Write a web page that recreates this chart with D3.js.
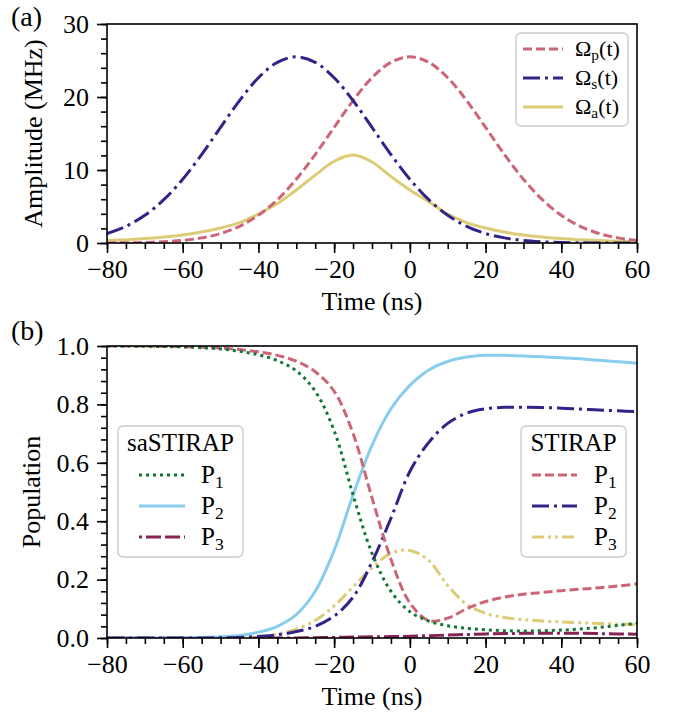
<!DOCTYPE html>
<html>
<head>
<meta charset="utf-8">
<script src="https://cdn.jsdelivr.net/npm/d3@7"></script>
<style>
  body { margin: 0; background: #fff; }
  svg text { fill: #000; font-family: "Liberation Serif", "Times New Roman", serif !important; }
  .axis path, .axis line { stroke: #000; stroke-width: 1.6; }
</style>
</head>
<body>
<div id="chart"></div>
<script>
// time grid (ns) shared by every curve
const TIME = [-80, -75, -70, -65, -60, -55, -50, -45, -40, -35, -30, -25, -20, -15, -10,
  -5, 0, 5, 10, 15, 20, 25, 30, 35, 40, 45, 50, 55, 60];

// panel (a): pulse amplitudes, MHz
const OMEGA_P = [0.01, 0.03, 0.08, 0.17, 0.35, 0.70, 1.30, 2.29, 3.80, 5.93, 8.74, 12.12, 15.84, 19.51, 22.64,
  24.75, 25.5, 24.75, 22.64, 19.51, 15.84, 12.12, 8.74, 5.93, 3.80, 2.29, 1.30, 0.70, 0.35];
const OMEGA_S = [1.30, 2.29, 3.80, 5.93, 8.74, 12.12, 15.84, 19.51, 22.64, 24.75, 25.5, 24.75, 22.64, 19.51, 15.84,
  12.12, 8.74, 5.93, 3.80, 2.29, 1.30, 0.70, 0.35, 0.17, 0.08, 0.03, 0.01, 0.0, 0.0];
const OMEGA_A = [0.33, 0.45, 0.6, 0.82, 1.1, 1.5, 2.05, 2.78, 3.97, 5.4, 7.26, 9.3, 11.2, 12.05, 11.1,
  9.1, 7.26, 5.66, 3.97, 2.8, 2.05, 1.5, 1.1, 0.82, 0.6, 0.45, 0.33, 0.25, 0.18];

// panel (b): populations, STIRAP
const STIRAP_P1 = [1.0, 1.0, 1.0, 0.999, 0.998, 0.996, 0.993, 0.988, 0.98, 0.968, 0.948, 0.912, 0.845, 0.70, 0.48,
  0.27, 0.12, 0.06, 0.068, 0.10, 0.125, 0.14, 0.15, 0.156, 0.162, 0.167, 0.172, 0.178, 0.185];
const STIRAP_P2 = [0, 0, 0, 0, 0, 0, 0.001, 0.002, 0.005, 0.011, 0.022, 0.04, 0.075, 0.14, 0.26,
  0.41, 0.57, 0.67, 0.735, 0.77, 0.785, 0.79, 0.79, 0.789, 0.787, 0.784, 0.781, 0.778, 0.775];
const STIRAP_P3 = [0, 0, 0, 0, 0, 0, 0.001, 0.002, 0.006, 0.014, 0.03, 0.06, 0.11, 0.175, 0.24,
  0.29, 0.30, 0.265, 0.18, 0.115, 0.085, 0.07, 0.063, 0.058, 0.055, 0.052, 0.05, 0.048, 0.045];

// panel (b): populations, saSTIRAP
const SA_P1 = [1.0, 1.0, 0.999, 0.998, 0.997, 0.994, 0.99, 0.982, 0.97, 0.95, 0.915, 0.845, 0.71, 0.49, 0.29,
  0.16, 0.09, 0.058, 0.042, 0.033, 0.028, 0.025, 0.024, 0.025, 0.027, 0.031, 0.036, 0.043, 0.05];
const SA_P2 = [0, 0, 0, 0, 0.001, 0.002, 0.004, 0.009, 0.02, 0.04, 0.08, 0.16, 0.3, 0.49, 0.66,
  0.785, 0.865, 0.918, 0.947, 0.962, 0.968, 0.968, 0.966, 0.963, 0.96, 0.956, 0.951, 0.946, 0.941];
const SA_P3 = [0, 0, 0, 0, 0, 0, 0, 0, 0, 0, 0, 0.001, 0.002, 0.003, 0.004,
  0.005, 0.006, 0.008, 0.01, 0.012, 0.014, 0.015, 0.016, 0.016, 0.016, 0.016, 0.015, 0.014, 0.013];

const X_TICKS = [-80, -60, -40, -20, 0, 20, 40, 60];
const A_Y_TICKS = [0, 10, 20, 30];
const B_Y_TICKS = [0, 0.2, 0.4, 0.6, 0.8, 1.0];

// muted qualitative colours
const COLORS = {
  rose: "#cc6677",
  indigo: "#332288",
  sand: "#ddcc77",
  green: "#117733",
  cyan: "#88ccee",
  wine: "#882255",
};

const DASH = {
  solid: null,
  dashed: "9,4",
  dashdot: "17,5,3,5",
  dashdotdot: "12,4,3,4,3,4",
  dotted: "3,4",
  dotdashdash: "3,4,15,4,15,4",
};

const FONT = 26;
const WIDTH = 680;
const HEIGHT = 719;
const X_RANGE = [107, 637];
const PANEL_A = { top: 24, bottom: 243 };
const PANEL_B = { top: 346, bottom: 638 };

const svg = d3.select("#chart")
  .append("svg")
  .attr("width", WIDTH)
  .attr("height", HEIGHT)
  .attr("viewBox", `0 0 ${WIDTH} ${HEIGHT}`);

const x = d3.scaleLinear().domain([-80, 60]).range(X_RANGE);

function series(values) {
  return TIME.map((t, i) => ({ t, v: values[i] }));
}

// label with a subscript, e.g. Ω_p(t)
function subText(sel, base, sub, tail, size) {
  sel.append("tspan").text(base);
  sel.append("tspan").attr("font-size", size * 0.7).attr("dy", size * 0.22).text(sub);
  if (tail) sel.append("tspan").attr("dy", -size * 0.22).text(tail);
}

function styleAxis(a) {
  a.attr("font-size", FONT);
  a.select(".domain").remove();
}

function drawPanel(cfg) {
  const y = d3.scaleLinear().domain(cfg.yDomain).range([cfg.box.bottom, cfg.box.top]);
  const g = svg.append("g");

  const clipId = `clip-${cfg.name}`;
  svg.append("clipPath").attr("id", clipId)
    .append("rect")
    .attr("x", X_RANGE[0]).attr("y", cfg.box.top)
    .attr("width", X_RANGE[1] - X_RANGE[0])
    .attr("height", cfg.box.bottom - cfg.box.top);

  // minor ticks first, then major ones on top
  g.append("g")
    .attr("class", "axis")
    .attr("transform", `translate(0,${cfg.box.bottom})`)
    .call(d3.axisBottom(x).tickValues(d3.range(-80, 61, 5)).tickSize(6).tickFormat(""))
    .call(styleAxis);
  g.append("g")
    .attr("class", "axis")
    .attr("transform", `translate(${X_RANGE[0]},0)`)
    .call(d3.axisLeft(y).tickValues(cfg.yMinor).tickSize(6).tickFormat(""))
    .call(styleAxis);

  g.append("g")
    .attr("class", "axis")
    .attr("transform", `translate(0,${cfg.box.bottom})`)
    .call(d3.axisBottom(x).tickValues(X_TICKS).tickSize(10).tickPadding(7).tickFormat(d3.format("d")))
    .call(styleAxis);
  g.append("g")
    .attr("class", "axis")
    .attr("transform", `translate(${X_RANGE[0]},0)`)
    .call(d3.axisLeft(y).tickValues(cfg.yTicks).tickSize(10).tickPadding(8).tickFormat(cfg.yFormat))
    .call(styleAxis);

  const line = d3.line()
    .x((d) => x(d.t))
    .y((d) => y(d.v))
    .curve(d3.curveCatmullRom.alpha(0.5));

  const lines = g.append("g").attr("clip-path", `url(#${clipId})`);
  cfg.lines.forEach((s) => {
    lines.append("path")
      .datum(series(s.values))
      .attr("fill", "none")
      .attr("stroke", s.color)
      .attr("stroke-width", 3)
      .attr("stroke-dasharray", s.dash)
      .attr("d", line);
  });

  // frame
  g.append("rect")
    .attr("x", X_RANGE[0]).attr("y", cfg.box.top)
    .attr("width", X_RANGE[1] - X_RANGE[0])
    .attr("height", cfg.box.bottom - cfg.box.top)
    .attr("fill", "none")
    .attr("stroke", "#000")
    .attr("stroke-width", 1.6);

  g.append("text")
    .attr("x", (X_RANGE[0] + X_RANGE[1]) / 2)
    .attr("y", cfg.box.bottom + 67)
    .attr("text-anchor", "middle")
    .attr("font-size", FONT)
    .text("Time (ns)");

  g.append("text")
    .attr("transform", `translate(${cfg.yLabelX},${(cfg.box.top + cfg.box.bottom) / 2}) rotate(-90)`)
    .attr("text-anchor", "middle")
    .attr("dy", "0.35em")
    .attr("font-size", FONT)
    .text(cfg.yLabel);

  g.append("text")
    .attr("x", 11)
    .attr("y", cfg.box.top + cfg.tagDy)
    .attr("font-size", 28)
    .text(cfg.tag);

  return g;
}

function drawLegend(g, lg) {
  g.append("rect")
    .attr("x", lg.x).attr("y", lg.y)
    .attr("width", lg.w).attr("height", lg.h)
    .attr("rx", 5)
    .attr("fill", "#fff").attr("fill-opacity", 0.8)
    .attr("stroke", "#cccccc").attr("stroke-width", 1.4);

  if (lg.title) {
    g.append("text")
      .attr("x", lg.x + lg.w / 2)
      .attr("y", lg.titleY)
      .attr("text-anchor", "middle")
      .attr("font-size", lg.fontSize)
      .text(lg.title);
  }

  lg.items.forEach((it, i) => {
    const cy = lg.firstY + i * lg.step;
    g.append("line")
      .attr("x1", lg.lineX[0]).attr("x2", lg.lineX[1])
      .attr("y1", cy).attr("y2", cy)
      .attr("stroke", it.color)
      .attr("stroke-width", 3)
      .attr("stroke-dasharray", it.dash);
    const t = g.append("text")
      .attr("x", lg.textX)
      .attr("y", cy + lg.fontSize * 0.3)
      .attr("font-size", lg.fontSize);
    subText(t, it.base, it.sub, it.tail, lg.fontSize);
  });
}

// panel (a)
const gA = drawPanel({
  name: "a",
  box: PANEL_A,
  yDomain: [0, 30],
  yTicks: A_Y_TICKS,
  yMinor: d3.range(0, 30.1, 2),
  yFormat: d3.format("d"),
  yLabel: "Amplitude (MHz)",
  yLabelX: 33,
  tag: "(a)",
  tagDy: 2,
  lines: [
    { values: OMEGA_A, color: COLORS.sand, dash: DASH.solid },
    { values: OMEGA_P, color: COLORS.rose, dash: DASH.dashed },
    { values: OMEGA_S, color: COLORS.indigo, dash: DASH.dashdot },
  ],
});

drawLegend(gA, {
  x: 516, y: 33, w: 112, h: 93,
  fontSize: 22,
  firstY: 49, step: 29,
  lineX: [523, 563], textX: 575,
  items: [
    { base: "Ω", sub: "p", tail: "(t)", color: COLORS.rose, dash: DASH.dashed },
    { base: "Ω", sub: "s", tail: "(t)", color: COLORS.indigo, dash: DASH.dashdot },
    { base: "Ω", sub: "a", tail: "(t)", color: COLORS.sand, dash: DASH.solid },
  ],
});

// panel (b)
const gB = drawPanel({
  name: "b",
  box: PANEL_B,
  yDomain: [0, 1],
  yTicks: B_Y_TICKS,
  yMinor: d3.range(0, 26).map((i) => i * 0.04),
  yFormat: d3.format(".1f"),
  yLabel: "Population",
  yLabelX: 31,
  tag: "(b)",
  tagDy: -6,
  lines: [
    { values: SA_P3, color: COLORS.wine, dash: DASH.dotdashdash },
    { values: STIRAP_P3, color: COLORS.sand, dash: DASH.dashdotdot },
    { values: SA_P2, color: COLORS.cyan, dash: DASH.solid },
    { values: STIRAP_P2, color: COLORS.indigo, dash: DASH.dashdot },
    { values: STIRAP_P1, color: COLORS.rose, dash: DASH.dashed },
    { values: SA_P1, color: COLORS.green, dash: DASH.dotted },
  ],
});

drawLegend(gB, {
  x: 118, y: 426, w: 125, h: 131,
  title: "saSTIRAP", titleY: 451,
  fontSize: 25,
  firstY: 475, step: 31,
  lineX: [139, 185], textX: 201,
  items: [
    { base: "P", sub: "1", color: COLORS.green, dash: DASH.dotted },
    { base: "P", sub: "2", color: COLORS.cyan, dash: DASH.solid },
    { base: "P", sub: "3", color: COLORS.wine, dash: DASH.dotdashdash },
  ],
});

drawLegend(gB, {
  x: 521, y: 426, w: 105, h: 131,
  title: "STIRAP", titleY: 451,
  fontSize: 25,
  firstY: 475, step: 31,
  lineX: [532, 577], textX: 594,
  items: [
    { base: "P", sub: "1", color: COLORS.rose, dash: DASH.dashed },
    { base: "P", sub: "2", color: COLORS.indigo, dash: DASH.dashdot },
    { base: "P", sub: "3", color: COLORS.sand, dash: DASH.dashdotdot },
  ],
});
</script>
</body>
</html>
